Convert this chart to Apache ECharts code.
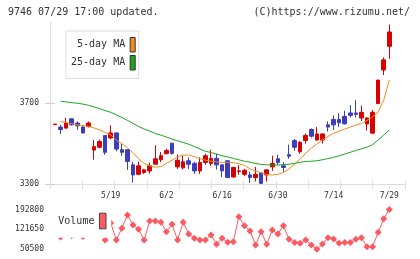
<!DOCTYPE html>
<html>
<head>
<meta charset="utf-8">
<script src="https://cdn.jsdelivr.net/npm/echarts@6/dist/echarts.min.js"></script>
<style>
  body { margin: 0; background: #fff; }
  #chart { width: 420px; height: 259px; }
</style>
</head>
<body>
<div id="chart"></div>
<script>
// trading days 5/1 .. 7/29
const dates = ['5/1','5/2','5/7','5/8','5/9','5/12','5/13','5/14','5/15','5/16',
  '5/19','5/20','5/21','5/22','5/23','5/26','5/27','5/28','5/29','5/30',
  '6/2','6/3','6/4','6/5','6/6','6/9','6/10','6/11','6/12','6/13',
  '6/16','6/17','6/18','6/19','6/20','6/23','6/24','6/25','6/26','6/27',
  '6/30','7/1','7/2','7/3','7/4','7/7','7/8','7/9','7/10','7/11',
  '7/14','7/15','7/16','7/17','7/18','7/22','7/23','7/24','7/25','7/28','7/29'];
const dateLabels = ['5/19', '6/2', '6/16', '6/30', '7/14', '7/29'];

const opens = [3594,3582,3577,3623,3602,3582,3585,3468,3482,3540,
  3528,3553,3470,3470,3395,3348,3357,3365,3398,3420,
  3450,3502,3385,3380,3415,3402,3365,3407,3402,3427,
  3395,3415,3335,3362,3348,3345,3332,3355,3345,3385,
  3425,3390,3445,3515,3460,3515,3570,3518,3518,3593,
  3620,3620,3635,3652,3652,3627,3597,3552,3698,3865,3982];
const closes = [3597,3570,3602,3593,3588,3553,3602,3485,3510,3457,
  3553,3473,3457,3412,3345,3390,3370,3390,3425,3440,
  3466,3452,3418,3410,3398,3365,3407,3440,3427,3395,
  3365,3332,3382,3365,3368,3332,3348,3303,3370,3402,
  3407,3382,3438,3482,3507,3540,3537,3548,3548,3582,
  3593,3603,3598,3640,3645,3655,3627,3655,3815,3915,4053];
const lows = [3594,3548,3573,3590,3568,3550,3580,3420,3477,3445,
  3522,3462,3440,3370,3307,3345,3350,3352,3398,3408,
  3448,3445,3375,3372,3375,3350,3350,3395,3390,3372,
  3335,3330,3330,3345,3340,3305,3312,3303,3312,3365,
  3395,3360,3425,3465,3450,3500,3530,3515,3500,3560,
  3567,3583,3595,3630,3630,3612,3565,3550,3698,3840,3920];
const highs = [3597,3592,3628,3625,3610,3588,3610,3518,3520,3542,
  3590,3555,3500,3472,3410,3410,3375,3405,3492,3458,
  3475,3505,3445,3440,3432,3410,3432,3450,3470,3450,
  3395,3415,3382,3393,3375,3360,3385,3355,3372,3440,
  3445,3408,3495,3523,3512,3550,3575,3582,3550,3610,
  3640,3650,3663,3690,3715,3688,3630,3667,3815,3927,4090];

const ma5 = [null,3610,3605,3598,3593,3590,3585,3578,3568,3555,
  3543,3518,3500,3480,3455,3425,3402,3390,3383,3386,
  3402,3418,3435,3443,3444,3436,3425,3418,3413,3409,
  3407,3407,3406,3400,3392,3375,3365,3355,3347,3345,
  3347,3357,3375,3398,3425,3452,3478,3498,3518,3535,
  3552,3562,3572,3582,3592,3600,3615,3632,3657,3715,3815];
const ma25 = [null,3710,3707,3703,3700,3696,3690,3682,3673,3664,
  3655,3642,3630,3615,3600,3585,3572,3562,3550,3542,
  3533,3522,3514,3506,3497,3486,3474,3462,3456,3448,
  3440,3434,3427,3420,3413,3408,3402,3397,3395,3394,
  3394,3396,3398,3402,3408,3411,3413,3415,3420,3426,
  3432,3440,3448,3457,3466,3474,3482,3495,3518,3542,3568];

const volumes = [126600,94500,119500,98800,126600,96300,133800,155200,133800,83700,
  144500,83700,125600,173100,137400,122000,83700,151700,151700,147000,
  113400,139900,83700,147000,105200,89800,83700,83700,101600,68400,
  89800,75500,77700,167000,134900,115900,65900,113400,68400,119500,
  105200,134900,86300,74800,72000,83700,65900,50500,69400,92000,
  87300,72000,74800,74800,86300,92000,59800,59800,111300,159900,192800];

const priceTicks = [3300, 3700];
const volumeTicks = [50500, 121650, 192800];

const candles = dates.map((d, i) => [opens[i], closes[i], lows[i], highs[i]]);

const mono = 'DejaVu Sans Mono';
const RED = '#d80000';
const BLUE = '#3d3dbd';
const ORANGE = '#f08c1a';
const GREEN = '#1ea51e';
const PINK = '#fb5a62';
const GRAY = '#dcdcdc';
const plain = (v) => String(v);

const chart = echarts.init(document.getElementById('chart'));

const decoX = (grid, inside, len, line) => ({
  gridIndex: grid, type: 'value', min: 0, max: 11, interval: 1, position: 'bottom',
  axisLine: { show: line, lineStyle: { color: GRAY } },
  axisTick: { inside: inside, length: len, lineStyle: { color: GRAY } },
  axisLabel: { show: false },
  splitLine: { show: false }
});

chart.setOption({
  animation: false,
  textStyle: { fontFamily: mono },
  title: [
    { text: '9746 07/29 17:00 updated.', left: 8, top: 7, padding: 0,
      textStyle: { fontSize: 10, fontWeight: 'normal', color: '#333', fontFamily: mono } },
    { text: '(C)https://www.rizumu.net/', right: 10, top: 7, padding: 0,
      textStyle: { fontSize: 10, fontWeight: 'normal', color: '#333', fontFamily: mono } }
  ],
  legend: [
    {
      data: ['5-day MA', '25-day MA'],
      orient: 'vertical', left: 66, top: 31,
      padding: [6, 3, 8, 5], itemGap: 2.5,
      itemWidth: 5, itemHeight: 14.5, icon: 'rect', align: 'right',
      backgroundColor: '#fff', borderColor: '#ddd', borderWidth: 1,
      selectedMode: false,
      formatter: (n) => (n.length < 9 ? ' ' + n : n),
      textStyle: { fontSize: 10, color: '#333', fontFamily: mono },
      itemStyle: { borderColor: '#333', borderWidth: 1 }
    },
    {
      data: ['Volume'],
      left: 50, top: 204,
      padding: [8.7, 4.7, 8.4, 8.3],
      itemWidth: 6.6, itemHeight: 15.6, icon: 'rect', align: 'right',
      backgroundColor: '#fff', borderWidth: 0,
      selectedMode: false,
      textStyle: { fontSize: 10, color: '#333', fontFamily: mono },
      itemStyle: { borderColor: '#444', borderWidth: 1 }
    }
  ],
  grid: [
    { left: 50, top: 22.5, width: 355, height: 161.5 },
    { left: 55, top: 22.5, width: 334.3, height: 161.5 },
    { left: 55, top: 209.5, width: 334.3, height: 39.8 },
    { left: 50, top: 22.5, width: 355, height: 161.5 }
  ],
  xAxis: [
    decoX(0, false, 5, true),
    {
      gridIndex: 1, type: 'category', data: dates, boundaryGap: false,
      axisLine: { show: false }, axisTick: { show: false },
      axisLabel: {
        interval: (idx, val) => dateLabels.includes(val),
        margin: 8, fontSize: 8, color: '#333', fontFamily: mono
      }
    },
    { gridIndex: 2, type: 'category', data: dates, boundaryGap: false, show: false },
    decoX(3, true, 3, false)
  ],
  yAxis: [
    {
      gridIndex: 0, type: 'value', min: 3300, max: 4100, position: 'left',
      axisLine: { show: true, lineStyle: { color: GRAY } },
      axisTick: { show: true, length: 5, customValues: priceTicks, lineStyle: { color: '#cfcfcf' } },
      axisLabel: { customValues: priceTicks, formatter: plain, margin: 11, fontSize: 8, color: '#333', fontFamily: mono },
      splitLine: { show: false }
    },
    { gridIndex: 1, type: 'value', min: 3300, max: 4100, show: false },
    {
      gridIndex: 2, type: 'value', min: 50500, max: 192800,
      axisLine: { show: false }, axisTick: { show: false },
      axisLabel: { customValues: volumeTicks, formatter: plain, margin: 11, fontSize: 8, color: '#333', fontFamily: mono },
      splitLine: { show: false }
    },
    {
      gridIndex: 3, type: 'value', min: 3300, max: 4100, position: 'left',
      axisLine: { show: false },
      axisTick: { show: true, inside: true, length: 5, customValues: priceTicks, lineStyle: { color: '#cfcfcf' } },
      axisLabel: { show: false },
      splitLine: { show: false }
    }
  ],
  series: [
    {
      type: 'candlestick', name: 'price', xAxisIndex: 1, yAxisIndex: 1,
      data: candles, barWidth: 4,
      itemStyle: { color: RED, color0: BLUE, borderColor: RED, borderColor0: BLUE, borderWidth: 1 }
    },
    {
      type: 'line', name: '5-day MA', xAxisIndex: 1, yAxisIndex: 1, data: ma5,
      symbol: 'none', smooth: false, lineStyle: { width: 1, color: ORANGE }, itemStyle: { color: ORANGE }
    },
    {
      type: 'line', name: '25-day MA', xAxisIndex: 1, yAxisIndex: 1, data: ma25,
      symbol: 'none', smooth: false, lineStyle: { width: 1, color: GREEN }, itemStyle: { color: GREEN }
    },
    {
      type: 'line', name: 'Volume', xAxisIndex: 2, yAxisIndex: 2, data: volumes,
      symbol: 'diamond', symbolSize: [7, 7], showAllSymbol: true, showSymbol: true,
      smooth: false, clip: false,
      lineStyle: { width: 1, color: PINK }, itemStyle: { color: PINK }
    }
  ]
});
</script>
</body>
</html>
